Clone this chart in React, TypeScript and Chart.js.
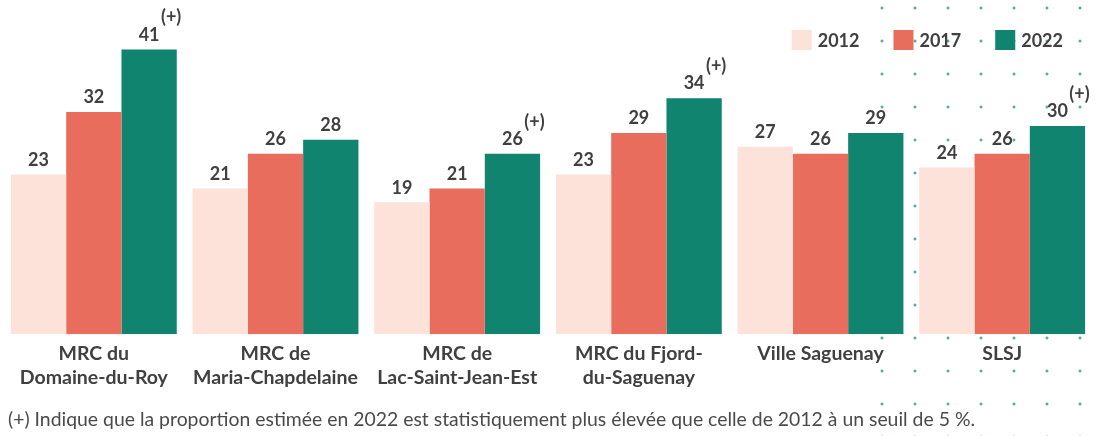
import React, { useEffect, useRef } from 'react';
import { Chart, registerables } from 'chart.js';

Chart.register(...registerables);

const categories: (string | string[])[] = [
  ['MRC du', 'Domaine-du-Roy'],
  ['MRC de', 'Maria-Chapdelaine'],
  ['MRC de', 'Lac-Saint-Jean-Est'],
  ['MRC du Fjord-', 'du-Saguenay'],
  'Ville Saguenay',
  'SLSJ',
];
const seriesNames = ['2012', '2017', '2022'];
const values2012 = [23, 21, 19, 23, 27, 24];
const values2017 = [32, 26, 21, 29, 26, 26];
const values2022 = [41, 28, 26, 34, 29, 30];
const significant2022 = [true, false, true, true, false, true];
const significanceMark = '(+)';
const footnote =
  '(+) Indique que la proportion estimée en 2022 est statistiquement plus élevée que celle de 2012 à un seuil de 5 %.';

const COLORS = ['#FDE2DA', '#E96D5C', '#10846E'];
const TEXT = '#404040';
const FONT = 'Lato, "Open Sans", sans-serif';

const dotsPlugin = {
  id: 'dots',
  beforeDraw(chart: any) {
    const ctx = chart.ctx;
    ctx.save();
    ctx.fillStyle = '#1E9278';
    for (let i = 0; i < 7; i++) {
      for (let j = 0; j < 14; j++) {
        const x = 882 + 33 * i;
        const y = 8 + 33 * j;
        ctx.fillRect(x - 1.5, y - 0.5, 3, 1);
        ctx.fillRect(x - 0.5, y - 1.5, 1, 3);
      }
    }
    ctx.restore();
  },
};

const labelsPlugin = {
  id: 'valueLabels',
  afterDatasetsDraw(chart: any) {
    const ctx = chart.ctx;
    ctx.save();
    ctx.fillStyle = TEXT;
    ctx.textAlign = 'center';
    ctx.textBaseline = 'middle';
    chart.data.datasets.forEach((ds: any, di: number) => {
      const meta = chart.getDatasetMeta(di);
      meta.data.forEach((bar: any, i: number) => {
        const v = ds.data[i];
        ctx.font = `bold 18px ${FONT}`;
        ctx.fillText(String(v), bar.x, bar.y - 14.5);
        if (di === 2 && significant2022[i]) {
          ctx.font = `bold 18px ${FONT}`;
          ctx.fillText(significanceMark, bar.x + 22, bar.y - 32);
        }
      });
    });
    ctx.restore();
  },
};

const legendPlugin = {
  id: 'customLegend',
  afterDraw(chart: any) {
    const ctx = chart.ctx;
    ctx.save();
    ctx.font = `bold 18px ${FONT}`;
    ctx.textBaseline = 'middle';
    const box = 20;
    const gapText = 6;
    const gapItem = 34;
    const widths = seriesNames.map((s) => ctx.measureText(s).width);
    const total =
      widths.reduce((a, w) => a + box + gapText + w, 0) + gapItem * (seriesNames.length - 1);
    let x = 1063 - total;
    const cy = 40;
    seriesNames.forEach((s, i) => {
      ctx.fillStyle = COLORS[i];
      ctx.fillRect(x, cy - box / 2, box, box);
      ctx.fillStyle = TEXT;
      ctx.textAlign = 'left';
      ctx.fillText(s, x + box + gapText, cy + 1);
      x += box + gapText + widths[i] + gapItem;
    });
    // footnote
    ctx.font = `19.4px ${FONT}`;
    ctx.fillStyle = '#4a4a4a';
    ctx.textAlign = 'left';
    ctx.fillText(footnote, 8, 420);
    ctx.restore();
  },
};

export default function App() {
  const ref = useRef<HTMLCanvasElement | null>(null);
  useEffect(() => {
    if (!ref.current) return;
    const chart = new Chart(ref.current, {
      type: 'bar',
      data: {
        labels: categories,
        datasets: [
          { label: seriesNames[0], data: values2012, backgroundColor: COLORS[0] },
          { label: seriesNames[1], data: values2017, backgroundColor: COLORS[1] },
          { label: seriesNames[2], data: values2022, backgroundColor: COLORS[2] },
        ],
      },
      options: {
        animation: false,
        responsive: false,
        devicePixelRatio: 1,
        layout: { padding: { left: 3, right: 8, top: 1, bottom: 39 } },
        datasets: {
          bar: { categoryPercentage: 0.913, barPercentage: 1, borderWidth: 0 },
        },
        plugins: {
          legend: { display: false },
          tooltip: { enabled: false },
        },
        scales: {
          x: {
            grid: { display: false, drawTicks: false },
            border: { display: false },
            ticks: {
              color: TEXT,
              padding: 8,
              maxRotation: 0,
              autoSkip: false,
              font: { family: FONT, weight: 'bold', size: 19.5, lineHeight: 1.2 },
            },
          },
          y: {
            display: false,
            min: 0,
            max: 48,
          },
        },
      },
      plugins: [dotsPlugin, labelsPlugin, legendPlugin],
    } as any);
    return () => chart.destroy();
  }, []);
  return (
    <div style={{ position: 'absolute', left: 0, top: 0, width: 1101, height: 436 }}>
      <canvas ref={ref} width={1101} height={436} style={{ width: 1101, height: 436 }} />
    </div>
  );
}
